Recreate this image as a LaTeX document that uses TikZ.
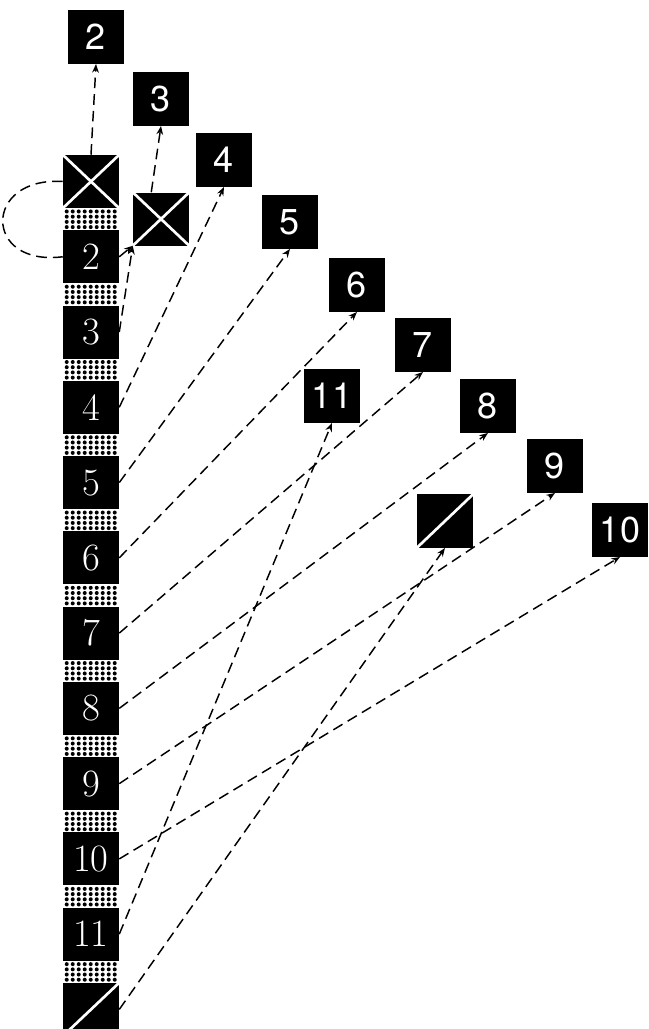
\documentclass[tikz,border=0pt]{standalone}
\usepackage{fontspec}
\newfontfamily\tgtfont{TeX Gyre Heros}
\usetikzlibrary{arrows.meta,positioning}

\begin{document}
\begin{tikzpicture}[
  x=0.75pt,y=-0.75pt,
  >={Stealth[length=6.5pt,width=5pt]},
  node distance=16.3pt,
  colbox/.style={fill=black,text=white,minimum width=42pt,minimum height=39.75pt,inner sep=0pt,font=\fontsize{29}{29}\selectfont},
  tgtbox/.style={fill=black,text=white,minimum width=42pt,minimum height=40pt,inner sep=0pt,font=\tgtfont\fontsize{27}{27}\selectfont},
  crossed/.style={path picture={\draw[white,line width=2pt] (path picture bounding box.north west) -- (path picture bounding box.south east) (path picture bounding box.south west) -- (path picture bounding box.north east);}},
  slashed/.style={path picture={\draw[white,line width=2pt] (path picture bounding box.south west) -- (path picture bounding box.north east);}},
  link/.style={dash pattern=on 8pt off 4.5pt,line width=1.1pt},
  arrow/.style={link,->}
]
  \useasboundingbox (0,0) rectangle (649,1029);
  % column of entries
  \node[colbox,crossed] (xa) at (91,181.5) {};
  \node[colbox,below=of xa] (n2) {2};
  \node[colbox,below=of n2] (n3) {3};
  \node[colbox,below=of n3] (n4) {4};
  \node[colbox,below=of n4] (n5) {5};
  \node[colbox,below=of n5] (n6) {6};
  \node[colbox,below=of n6] (n7) {7};
  \node[colbox,below=of n7] (n8) {8};
  \node[colbox,below=of n8] (n9) {9};
  \node[colbox,below=of n9] (n10) {10};
  \node[colbox,below=of n10] (n11) {11};
  \node[colbox,slashed,below=of n11] (sl) {};
  % dotted strips between entries
  \foreach \a/\b in {xa/n2,n2/n3,n3/n4,n4/n5,n5/n6,n6/n7,n7/n8,n8/n9,n9/n10,n10/n11,n11/sl}
    \foreach \i in {0,...,8}
      \foreach \j in {0,...,3}
        \fill ([shift={({4+6*\i},{3.2+5.2*\j})}]\a.south west) circle (1.5pt);
  % targets
  \node[tgtbox] (t2) at (96,37) {2};
  \node[tgtbox] (t3) at (161,99) {3};
  \node[tgtbox] (t4) at (224,160) {4};
  \node[colbox,crossed] (xb) at (161,219) {};
  \node[tgtbox] (t5) at (290,222) {5};
  \node[tgtbox] (t6) at (357,285) {6};
  \node[tgtbox] (t7) at (423,345) {7};
  \node[tgtbox] (t11) at (332,396) {11};
  \node[tgtbox] (t8) at (488,406) {8};
  \node[tgtbox] (t9) at (555,466) {9};
  \node[tgtbox] (t10) at (620,530) {10};
  \node[tgtbox,slashed] (ts) at (445,521) {};
  % connectors
  \draw[arrow] (xa.north) -- (t2.south);
  \draw[link] (xa.west) .. controls +(-80,-5) and +(-80,10) .. (n2.west);
  \draw[arrow] (n2.east) -- (xb.south west);
  \draw[arrow] (n3.east) -- (xb.south west);
  \draw[arrow] (xb.110) -- (t3.south);
  \draw[arrow] (n4.east) -- (t4.south);
  \draw[arrow] (n5.east) -- (t5.south);
  \draw[arrow] (n6.east) -- (t6.south);
  \draw[arrow] (n7.east) -- (t7.south);
  \draw[arrow] (n8.east) -- (t8.south);
  \draw[arrow] (n9.east) -- (t9.south);
  \draw[arrow] (n10.east) -- (t10.south);
  \draw[arrow] (n11.east) -- (t11.south);
  \draw[arrow] (sl.east) -- (ts.south);
\end{tikzpicture}
\end{document}
